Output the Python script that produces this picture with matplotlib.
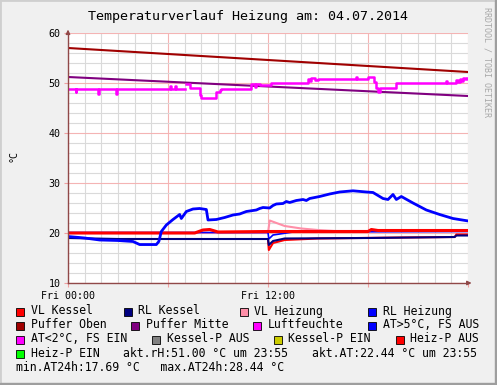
import numpy as np
import matplotlib.pyplot as plt
from matplotlib.patches import Rectangle

# ---- data (hours of the day, degC / %rH) ----
puffer_oben_h = [0, 24]
puffer_oben = [57.0, 52.2]
puffer_mitte_h = [0, 24]
puffer_mitte = [51.2, 47.4]

luft_h = [0, 0.4, 0.45, 0.5, 1.75, 1.8, 1.85, 2.85, 2.9, 2.95, 6.05, 6.1, 6.2, 6.35, 6.4, 6.5,
          7.0, 7.05, 7.2, 7.3, 7.7, 7.9, 8.0, 8.7, 8.85, 9.1, 9.2, 10.9, 11.0, 11.2, 11.3, 11.5,
          11.6, 12.1, 12.15, 14.3, 14.4, 14.5, 14.6, 14.8, 15.0, 15.3, 17.25, 17.3, 17.35, 17.9,
          18.0, 18.2, 18.35, 18.5, 18.6, 18.7, 19.6, 19.7, 22.65, 22.7, 22.75, 23.2, 23.3, 23.4,
          23.5, 23.6, 23.7, 23.8, 23.95]
luft = [48.8, 48.8, 48.3, 48.8, 48.8, 47.9, 48.8, 48.8, 47.9, 48.8, 48.8, 49.4, 48.8, 48.8, 49.4, 48.8,
        np.nan, 49.9, 49.9, 49.0, 49.0, 47.6, 47.0, 47.0, 48.3, 48.6, 48.9, 48.9, 49.9, 49.2, 49.9, 49.6,
        49.6, 49.6, 50.1, 50.1, 50.9, 50.4, 51.1, 50.6, 50.9, 50.8, 50.8, 51.3, 50.8, 50.8,
        51.3, 51.3, 50.2, 49.1, 48.3, 49.1, 49.1, 50.1, 50.1, 50.5, 50.1, 50.1, 50.6, 50.3,
        50.9, 50.5, 51.0, 50.8, 51.0]

at_h = [0, 1.0, 1.9, 3.0, 3.9, 4.3, 5.3, 5.45, 5.6, 5.9, 6.3, 6.7, 6.8, 7.1, 7.5, 7.9, 8.3, 8.4,
        8.9, 9.4, 9.9, 10.3, 10.7, 11.3, 11.5, 11.7, 12.1, 12.3, 12.5, 12.9, 13.1, 13.3, 13.7, 14.1,
        14.3, 14.5, 15.1, 15.7, 16.3, 17.1, 17.9, 18.3, 18.9, 19.2, 19.5, 19.7, 20.0, 20.7, 21.5,
        22.3, 23.1, 23.95]
at = [19.3, 19.0, 18.6, 18.5, 18.3, 17.69, 17.69, 18.3, 20.3, 21.6, 22.7, 23.7, 22.9, 24.3, 24.8, 24.9,
      24.7, 22.6, 22.7, 23.1, 23.6, 23.8, 24.3, 24.6, 24.9, 25.1, 25.0, 25.5, 25.8, 25.9, 26.3, 26.1,
      26.5, 26.7, 26.5, 26.9, 27.3, 27.8, 28.2, 28.44, 28.2, 28.1, 26.9, 26.7, 27.7, 26.7, 27.3,
      26.0, 24.6, 23.7, 22.9, 22.44]

vl_kessel_h = [0, 7.6, 8.1, 8.5, 9.0, 12.0, 18.0, 18.2, 18.6, 24]
vl_kessel = [20.0, 20.0, 20.6, 20.7, 20.2, 20.3, 20.3, 20.7, 20.5, 20.5]
vl_kessel_b_h = [12.0, 12.05, 12.3, 13.0, 15.0, 20.0, 23.2, 23.3, 24]
vl_kessel_b = [18.8, 16.6, 18.0, 18.6, 18.9, 19.1, 19.2, 19.7, 19.7]
rl_kessel_h = [0, 3.0, 12.0, 12.05, 12.3, 13.0, 18.0, 23.2, 23.3, 24]
rl_kessel = [19.0, 18.8, 18.8, 17.6, 18.4, 18.9, 19.0, 19.2, 19.5, 19.5]
vl_heiz_h = [0, 12.0, 12.1, 13.0, 14.0, 15.0, 16.0, 24]
vl_heiz = [20.0, 20.0, 22.5, 21.4, 20.9, 20.6, 20.4, 20.4]
rl_heiz_h = [0, 12.0, 12.05, 12.3, 13.5, 24]
rl_heiz = [20.1, 20.1, 18.8, 19.6, 20.2, 20.3]

title = 'Temperaturverlauf Heizung am: 04.07.2014'
# (label, colour, text x)
legend_rows = [
    [('VL Kessel', '#FF0000', 30.7), ('RL Kessel', '#000080', 138.3),
     ('VL Heizung', '#FF8FA8', 254), ('RL Heizung', '#0000FF', 382.7)],
    [('Puffer Oben', '#A00000', 30.7), ('Puffer Mitte', '#800080', 145.7),
     ('Luftfeuchte', '#FF00FF', 268), ('AT>5°C, FS AUS', '#0000FF', 382.7)],
    [('AT<2°C, FS EIN', '#FF00FF', 30.7), ('Kessel-P AUS', '#808080', 166.7),
     ('Kessel-P EIN', '#CCCC00', 288.3), ('Heiz-P AUS', '#FF0000', 410)],
    [('Heiz-P EIN', '#00FF00', 30.7)],
]

W, H = 497, 385
def fx(px): return px / W
def fy(py): return 1 - py / H

mono = 'DejaVu Sans Mono'
fig = plt.figure(figsize=(W / 100, H / 100), dpi=100, facecolor='#F0F0F0')
# 3d-ish frame
fig.patches.append(Rectangle((0, 0), 1, 1, transform=fig.transFigure, fill=False, edgecolor='#CFCFCF', linewidth=2))
fig.patches.append(Rectangle((0, 0), 1, fy(383), transform=fig.transFigure, color='#9E9E9E'))
fig.patches.append(Rectangle((fx(495), 0), fx(2), 1, transform=fig.transFigure, color='#9E9E9E'))

ax = fig.add_axes([fx(68), fy(283), fx(400), 250 / H])
ax.set_facecolor('white')
ax.set_xlim(0, 24)
ax.set_ylim(10, 60)

# grid
ax.set_yticks(np.arange(10, 61, 10))
ax.set_yticks(np.arange(10, 61, 2), minor=True)
ax.set_xticks([0, 6, 12, 18, 24])
ax.set_xticks(np.arange(0, 25, 1), minor=True)
ax.set_xticklabels(['Fri 00:00', '', 'Fri 12:00', '', ''], fontfamily=mono, fontsize=7.2)
ax.set_yticklabels([str(v) for v in range(10, 61, 10)], fontfamily=mono, fontsize=7.2)
ax.grid(which='minor', color='#DADADA', linewidth=0.8)
ax.grid(which='major', color='#F4B4B4', linewidth=0.8)
ax.tick_params(which='major', length=3, color='#F0A0A0', pad=2.5)
ax.tick_params(which='minor', length=0)
ax.set_axisbelow(True)
for s in ['top', 'right']:
    ax.spines[s].set_visible(False)
for s in ['left', 'bottom']:
    ax.spines[s].set_color('#904848')
    ax.spines[s].set_linewidth(1.0)
ax.annotate('', xy=(0, 1.025), xytext=(0, 0.99), xycoords='axes fraction',
            arrowprops=dict(arrowstyle='-|>', color='#904848', lw=1, mutation_scale=6),
            annotation_clip=False)
ax.annotate('', xy=(1.016, 0), xytext=(0.99, 0), xycoords='axes fraction',
            arrowprops=dict(arrowstyle='-|>', color='#904848', lw=1, mutation_scale=6),
            annotation_clip=False)

# series
ax.plot(puffer_oben_h, puffer_oben, color='#A00000', lw=1.5)
ax.plot(puffer_mitte_h, puffer_mitte, color='#800080', lw=1.5)
ax.plot(luft_h, luft, color='#FF00FF', lw=1.8, drawstyle='steps-post')
ax.plot(vl_heiz_h, vl_heiz, color='#FF8FA8', lw=1.5)
ax.plot(vl_kessel_b_h, vl_kessel_b, color='#FF0000', lw=1.5)
ax.plot(rl_heiz_h, rl_heiz, color='#0000FF', lw=1.2)
ax.plot(vl_kessel_h, vl_kessel, color='#FF0000', lw=2.2)
ax.plot(rl_kessel_h, rl_kessel, color='#000080', lw=1.5)
ax.plot(at_h, at, color='#0000FF', lw=2.0)

# texts
fig.text(fx(248.5), fy(16.5), title, fontfamily=mono, fontsize=9.6, ha='center', va='center')
fig.text(fx(13), fy(156), '°C', fontfamily=mono, fontsize=7.2, rotation=90, ha='center', va='center')
fig.text(fx(487), fy(62), 'RRDTOOL / TOBI OETIKER', fontfamily=mono, fontsize=6, rotation=-90,
         ha='center', va='center', color='#A8A8A8')

row_y = [311, 325, 339, 353.3, 367.3]
for row, yy in zip(legend_rows, row_y):
    for label, col, tx in row:
        sx = tx - 14.5
        fig.patches.append(Rectangle((fx(sx), fy(yy + 4.5)), fx(8), 8 / H, transform=fig.transFigure,
                                     facecolor=col, edgecolor='black', linewidth=0.6))
        fig.text(fx(tx), fy(yy), label, fontfamily=mono, fontsize=8.3, va='center')
fig.text(fx(122.7), fy(row_y[3]), 'akt.rH:51.00 °C um 23:55', fontfamily=mono, fontsize=8.3, va='center')
fig.text(fx(311.7), fy(row_y[3]), 'akt.AT:22.44 °C um 23:55', fontfamily=mono, fontsize=8.3, va='center')
fig.text(fx(16), fy(row_y[4]), 'min.AT24h:17.69 °C   max.AT24h:28.44 °C', fontfamily=mono, fontsize=8.3, va='center')

fig.savefig('out.png', dpi=100, facecolor=fig.get_facecolor())
